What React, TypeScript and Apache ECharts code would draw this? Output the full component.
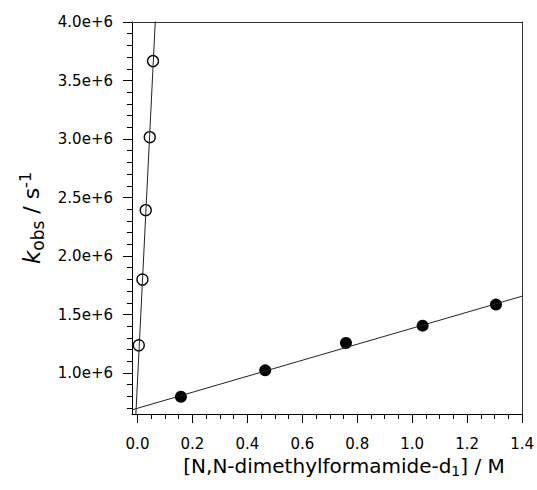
import React, { useEffect, useRef } from "react";
import * as echarts from "echarts";

// Open circles (upper series)
const openX = [0.0047, 0.018, 0.030, 0.0446, 0.0565];
const openY = [1.237e6, 1.799e6, 2.392e6, 3.016e6, 3.666e6];
// Filled circles (lower series)
const filledX = [0.158, 0.465, 0.759, 1.038, 1.305];
const filledY = [0.798e6, 1.023e6, 1.257e6, 1.405e6, 1.585e6];
// Linear fits: [slope, intercept]
const openFit = [47.5e6, 0.93e6];
const filledFit = [0.684e6, 0.699e6];
const openFitRange = [-0.02, 0.1];
const filledFitRange = [-0.02, 1.4];

const xMajorTicks = [0, 0.2, 0.4, 0.6, 0.8, 1.0, 1.2, 1.4];
const xMinorTicks = [0.05, 0.1, 0.15, 0.25, 0.3, 0.35, 0.45, 0.5, 0.55, 0.65, 0.7, 0.75, 0.85, 0.9, 0.95, 1.05, 1.1, 1.15, 1.25, 1.3, 1.35];
const yMajorTicks = [1.0e6, 1.5e6, 2.0e6, 2.5e6, 3.0e6, 3.5e6, 4.0e6];
const yMinorTicks = [0.7e6, 0.8e6, 0.9e6, 1.1e6, 1.2e6, 1.3e6, 1.4e6, 1.6e6, 1.7e6, 1.8e6, 1.9e6, 2.1e6, 2.2e6, 2.3e6, 2.4e6, 2.6e6, 2.7e6, 2.8e6, 2.9e6, 3.1e6, 3.2e6, 3.3e6, 3.4e6, 3.6e6, 3.7e6, 3.8e6, 3.9e6];

const X_MIN = -0.02;
const X_MAX = 1.4;
const Y_MIN = 0.65e6;
const Y_MAX = 4.0e6;

const FONT = "DejaVu Sans";

export default function App() {
  const ref = useRef<HTMLDivElement>(null);
  useEffect(() => {
    document.body.style.margin = "0";
    const chart = echarts.init(ref.current!, null, { renderer: "svg" });
    const fitLine = (fit: number[], range: number[]) =>
      range.map((x) => [x, fit[0] * x + fit[1]]);
    const axisLineStyle = { color: "#000", width: 1 };
    chart.setOption({
      animation: false,
      backgroundColor: "#fff",
      grid: { left: 132, top: 22, right: 13, bottom: 76, containLabel: false },
      xAxis: [
        {
          type: "value",
          position: "bottom",
          min: X_MIN,
          max: X_MAX,
          axisLine: { show: true, onZero: false, lineStyle: axisLineStyle },
          axisTick: { show: true, inside: false, length: 9, customValues: xMajorTicks, lineStyle: axisLineStyle },
          axisLabel: {
            show: true,
            customValues: xMajorTicks,
            formatter: (v: number) => v.toFixed(1),
            fontFamily: FONT,
            fontSize: 15,
            color: "#000",
            margin: 22,
          },
          splitLine: { show: false },
          name: "[N,N-dimethylformamide-d{sub|1}] / M",
          nameLocation: "middle",
          nameGap: 40,
          nameTextStyle: {
            fontFamily: FONT,
            fontSize: 20,
            color: "#000",
            padding: [0, 0, 0, 34],
            rich: {
              sub: { fontFamily: FONT, fontSize: 14, color: "#000", padding: [10, 0, 0, 0] },
            },
          },
        },
        {
          type: "value",
          position: "bottom",
          min: X_MIN,
          max: X_MAX,
          axisLine: { show: false, onZero: false },
          axisTick: { show: true, inside: false, length: 5, customValues: xMinorTicks, lineStyle: axisLineStyle },
          axisLabel: { show: false },
          splitLine: { show: false },
        },
        {
          type: "value",
          position: "top",
          min: X_MIN,
          max: X_MAX,
          axisLine: { show: true, onZero: false, lineStyle: { color: "#333", width: 1 } },
          axisTick: { show: false },
          axisLabel: { show: false },
          splitLine: { show: false },
        },
      ],
      yAxis: [
        {
          type: "value",
          position: "left",
          min: Y_MIN,
          max: Y_MAX,
          axisLine: { show: true, onZero: false, lineStyle: axisLineStyle },
          axisTick: { show: true, inside: false, length: 9, customValues: yMajorTicks, lineStyle: axisLineStyle },
          axisLabel: {
            show: true,
            customValues: yMajorTicks,
            formatter: (v: number) => (v / 1e6).toFixed(1) + "e+6",
            fontFamily: FONT,
            fontSize: 15,
            color: "#000",
            margin: 19,
          },
          splitLine: { show: false },
          name: "{k|k}{sub|obs}{n| / s}{sup|-1}",
          nameLocation: "middle",
          nameGap: 86,
          nameTextStyle: {
            fontFamily: FONT,
            fontSize: 22,
            color: "#000",
            rich: {
              k: { fontFamily: FONT, fontSize: 23, fontStyle: "italic", color: "#000" },
              n: { fontFamily: FONT, fontSize: 22, color: "#000" },
              sub: { fontFamily: FONT, fontSize: 17, color: "#000", padding: [12, 0, 0, 0] },
              sup: { fontFamily: FONT, fontSize: 16, color: "#000", padding: [0, 0, 12, 0] },
            },
          },
        },
        {
          type: "value",
          position: "left",
          min: Y_MIN,
          max: Y_MAX,
          axisLine: { show: false, onZero: false },
          axisTick: { show: true, inside: false, length: 5, customValues: yMinorTicks, lineStyle: axisLineStyle },
          axisLabel: { show: false },
          splitLine: { show: false },
        },
        {
          type: "value",
          position: "right",
          min: Y_MIN,
          max: Y_MAX,
          axisLine: { show: true, onZero: false, lineStyle: { color: "#333", width: 1 } },
          axisTick: { show: false },
          axisLabel: { show: false },
          splitLine: { show: false },
        },
      ],
      series: [
        {
          type: "line",
          data: fitLine(openFit, openFitRange),
          symbol: "none",
          clip: true,
          lineStyle: { color: "#222", width: 1 },
          silent: true,
        },
        {
          type: "line",
          data: fitLine(filledFit, filledFitRange),
          symbol: "none",
          clip: true,
          lineStyle: { color: "#222", width: 1 },
          silent: true,
        },
        {
          type: "scatter",
          data: openX.map((x, i) => [x, openY[i]]),
          symbol: "circle",
          symbolSize: 11,
          itemStyle: { color: "#fff", borderColor: "#000", borderWidth: 1.3, opacity: 1 },
        },
        {
          type: "scatter",
          data: filledX.map((x, i) => [x, filledY[i]]),
          symbol: "circle",
          symbolSize: 12,
          itemStyle: { color: "#000", borderColor: "#000", borderWidth: 0, opacity: 1 },
        },
      ],
    });
    return () => chart.dispose();
  }, []);
  return <div ref={ref} style={{ width: 537, height: 490 }} />;
}
